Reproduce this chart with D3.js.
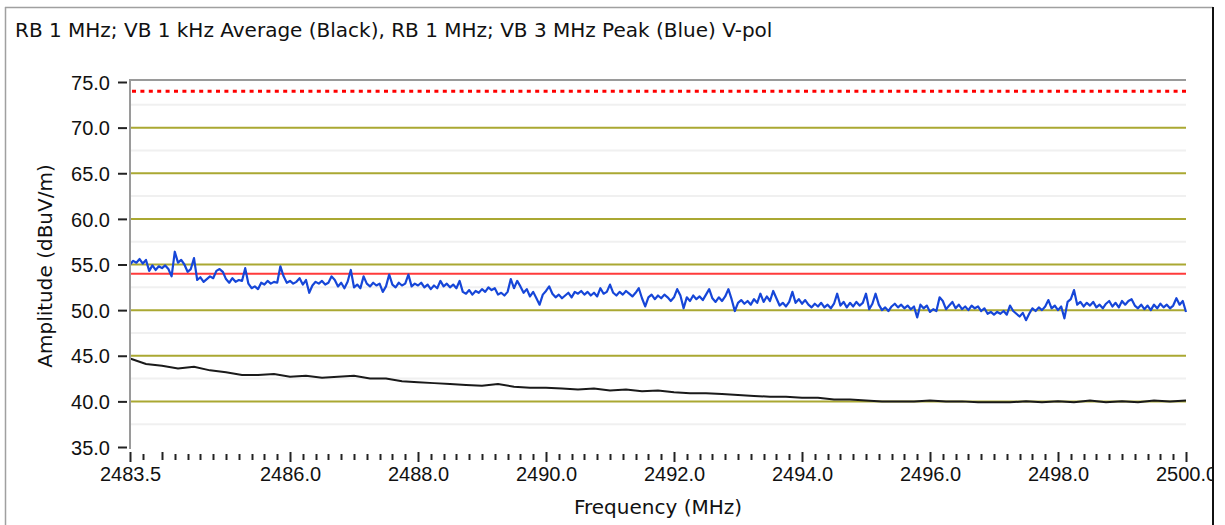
<!DOCTYPE html>
<html>
<head>
<meta charset="utf-8">
<style>
  body { margin: 0; background: #fff; }
  svg { display: block; font-family: "DejaVu Sans", Verdana, sans-serif; }
  .grid-major { stroke: #aaa832; stroke-width: 2; }
  .grid-minor { stroke: #f0f0f0; stroke-width: 2; }
  .tick-lbl { font-size: 20px; fill: #111; }
</style>
</head>
<body>
<script src="https://cdn.jsdelivr.net/npm/d3@7/dist/d3.min.js"></script>
<script>
// ---- data ----
const title = "RB 1 MHz; VB 1 kHz Average (Black), RB 1 MHz; VB 3 MHz Peak (Blue) V-pol";
const yTicks = [35, 40, 45, 50, 55, 60, 65, 70, 75];
const yMajorGrid = [40, 45, 50, 55, 60, 65, 70];
const yMinorGrid = [37.5, 42.5, 47.5, 52.5, 57.5, 62.5, 67.5, 72.5];
const xLabels = [2483.5, 2486, 2488, 2490, 2492, 2494, 2496, 2498, 2500];
const limitAvg = 54;   // solid red
const limitPeak = 74;  // dotted red

// peak trace (blue), one value per 0.05 MHz from 2483.5
const peakStart = 2483.5, peakStep = 0.05;
const peakVals = [
  55.0, 55.4, 55.2, 55.6, 55.1, 55.5, 54.3, 54.9, 54.4, 54.8,
  54.6, 54.9, 54.5, 53.7, 56.4, 55.2, 55.5, 55.0, 54.2, 54.5,
  55.7, 53.3, 53.6, 53.1, 53.4, 53.7, 53.5, 54.3, 54.5, 54.2,
  53.4, 53.0, 53.5, 53.1, 53.3, 53.2, 54.6, 52.9, 52.4, 52.6,
  52.3, 53.0, 52.8, 53.2, 52.9, 53.1, 53.0, 54.8, 53.7, 53.0,
  53.2, 52.9, 53.1, 53.5, 52.8, 53.3, 51.9, 52.7, 53.1, 52.9,
  53.2, 52.8, 53.0, 53.7, 53.3, 52.6, 53.0, 52.4, 53.1, 54.4,
  52.5, 52.8, 52.4, 53.7, 52.9, 52.6, 53.0, 52.7, 52.9, 52.0,
  52.6, 53.9, 52.8, 52.5, 53.0, 52.7, 52.9, 53.9, 52.6, 52.9,
  52.7, 53.0, 52.5, 52.8, 52.3, 52.7, 52.4, 53.2, 52.6, 52.9,
  52.5, 52.8, 52.4, 53.2, 52.0, 51.8, 52.2, 51.7, 52.1, 51.9,
  52.3, 52.0, 52.5, 52.2, 52.4, 51.7, 51.9, 51.6, 52.0, 53.4,
  52.4, 53.2, 52.6, 51.9, 52.3, 51.5, 52.0, 51.3, 50.6, 51.7,
  52.1, 52.6, 51.8, 51.4, 51.7, 51.3, 51.6, 51.9, 51.4, 52.0,
  51.8, 52.1, 51.7, 52.0, 51.6, 51.9, 51.5, 52.4, 51.8, 52.0,
  52.8, 51.9, 51.6, 52.0, 51.7, 52.1, 51.8, 51.5, 51.9, 52.4,
  51.3, 50.4, 51.4, 51.7, 51.2, 51.6, 51.3, 51.7, 51.4, 51.0,
  51.4, 52.3, 51.6, 50.2, 51.4, 51.0, 51.6, 51.2, 51.5, 51.1,
  51.7, 52.3, 51.3, 50.9, 51.4, 51.0, 51.5, 52.3, 51.2, 49.9,
  50.8, 51.1, 50.7, 51.0, 50.6, 51.2, 50.8, 51.8, 50.9, 51.5,
  51.0, 52.1, 51.3, 50.5, 50.8, 50.4, 50.9, 52.0, 50.8, 51.2,
  50.7, 51.1, 50.6, 50.3, 50.7, 50.4, 50.8, 50.3, 50.6, 50.2,
  50.7, 51.8, 50.5, 50.9, 50.3, 50.8, 50.4, 50.9, 50.5, 50.8,
  51.8, 50.1, 50.7, 51.8, 50.6, 50.0, 50.3, 49.9, 50.4, 50.7,
  50.3, 50.6, 50.2, 50.5, 50.1, 50.4, 49.2, 50.6, 50.2, 50.5,
  49.8, 50.1, 49.9, 51.4, 51.0, 50.1, 50.5, 50.9, 50.2, 50.6,
  50.1, 50.4, 50.0, 50.5, 50.2, 50.4, 49.9, 50.2, 49.6, 49.8,
  49.5, 49.8, 49.6, 49.9, 49.5, 50.5, 49.9, 49.6, 49.3, 49.7,
  48.9, 49.6, 50.2, 49.9, 50.3, 50.0, 50.4, 51.1, 50.2, 50.5,
  50.0, 50.4, 49.1, 50.9, 51.2, 52.2, 50.6, 50.9, 50.4, 50.8,
  50.5, 50.9, 50.3, 50.6, 50.2, 50.7, 51.0, 50.4, 50.8, 50.3,
  51.0, 50.6, 51.0, 51.2, 50.5, 50.2, 50.6, 50.1, 50.5, 50.0,
  50.6, 50.2, 50.7, 50.3, 50.6, 50.2, 50.5, 51.3, 50.6, 51.0,
  49.8
];

// average trace (black), one value per 0.25 MHz from 2483.5
const avgStart = 2483.5, avgStep = 0.25;
const avgVals = [
  44.7, 44.1, 43.9, 43.6, 43.8, 43.4, 43.2, 42.9, 42.9, 43.0,
  42.7, 42.8, 42.6, 42.7, 42.8, 42.5, 42.5, 42.2, 42.1, 42.0,
  41.9, 41.8, 41.7, 41.9, 41.6, 41.5, 41.5, 41.4, 41.3, 41.4,
  41.2, 41.3, 41.1, 41.2, 41.0, 40.9, 40.9, 40.8, 40.7, 40.6,
  40.5, 40.5, 40.4, 40.4, 40.2, 40.2, 40.1, 40.0, 40.0, 40.0,
  40.1, 40.0, 40.0, 39.9, 39.9, 39.9, 40.0, 39.9, 40.0, 39.9,
  40.1, 39.9, 40.0, 39.9, 40.1, 40.0, 40.1
];

// ---- drawing ----
const W = 1225, H = 525;
const svg = d3.select("body").append("svg").attr("width", W).attr("height", H);

const x = d3.scaleLinear().domain([2483.5, 2500]).range([130, 1186]);
const y = d3.scaleLinear().domain([35, 75]).range([447, 82]);

// outer frame
svg.append("line").attr("x1", 5.5).attr("x2", 5.5).attr("y1", 7).attr("y2", H).attr("stroke", "#a0a0a0").attr("stroke-width", 1.5);
svg.append("line").attr("x1", 5).attr("x2", 1213).attr("y1", 7.5).attr("y2", 7.5).attr("stroke", "#a0a0a0").attr("stroke-width", 1.5);

svg.append("text").attr("x", 15).attr("y", 37).attr("class", "tick-lbl").text(title);

// grid lines
svg.append("g").selectAll("line").data(yMinorGrid).join("line")
  .attr("class", "grid-minor")
  .attr("x1", x.range()[0]).attr("x2", x.range()[1])
  .attr("y1", d => y(d)).attr("y2", d => y(d));
svg.append("g").selectAll("line").data(yMajorGrid).join("line")
  .attr("class", "grid-major")
  .attr("x1", x.range()[0]).attr("x2", x.range()[1])
  .attr("y1", d => y(d)).attr("y2", d => y(d));

// limit lines
svg.append("line").attr("x1", x.range()[0]).attr("x2", x.range()[1])
  .attr("y1", y(limitAvg)).attr("y2", y(limitAvg))
  .attr("stroke", "#ff3b3b").attr("stroke-width", 2);
svg.append("line").attr("x1", x.range()[0] + 2).attr("x2", x.range()[1])
  .attr("y1", y(limitPeak)).attr("y2", y(limitPeak))
  .attr("stroke", "#ff0000").attr("stroke-width", 3).attr("stroke-dasharray", "4,4.4");

// traces
const line = d3.line().x(d => x(d[0])).y(d => y(d[1]));
const avgData = avgVals.map((v, i) => [avgStart + i * avgStep, v]);
const peakData = peakVals.map((v, i) => [peakStart + i * peakStep, v]);
svg.append("path").datum(avgData).attr("d", line)
  .attr("fill", "none").attr("stroke", "#1a1a1a").attr("stroke-width", 2);
svg.append("path").datum(peakData).attr("d", line)
  .attr("fill", "none").attr("stroke", "#1646d8").attr("stroke-width", 2.2).attr("stroke-linejoin", "round");

// plot border (left + top)
svg.append("line").attr("x1", 130).attr("x2", 1186).attr("y1", 80).attr("y2", 80).attr("stroke", "#9a9a9a").attr("stroke-width", 2);
svg.append("line").attr("x1", 130).attr("x2", 130).attr("y1", 79).attr("y2", 449).attr("stroke", "#9a9a9a").attr("stroke-width", 2);

// y axis
const yAxis = svg.append("g").attr("transform", "translate(127,0)")
  .call(d3.axisLeft(y).tickValues(yTicks).tickSize(9).tickPadding(8).tickFormat(d3.format(".1f")));
yAxis.select(".domain").remove();
yAxis.selectAll("line").attr("stroke", "#222").attr("stroke-width", 2);
yAxis.selectAll("text").attr("class", "tick-lbl").attr("font-family", null).attr("font-size", null).attr("dy", "0.36em");

// x axis: ticks every 0.2 MHz, taller at labelled positions
const minorTicks = [2483.7].concat(d3.range(2484, 2500.001, 0.2).map(v => +v.toFixed(1)));
const isMajor = v => xLabels.some(l => Math.abs(l - v) < 1e-6);
const allTicks = Array.from(new Set(minorTicks.concat(xLabels)));
svg.append("g").selectAll("line").data(allTicks).join("line")
  .attr("x1", d => Math.round(x(d)) + 0.5).attr("x2", d => Math.round(x(d)) + 0.5)
  .attr("y1", d => isMajor(d) || Math.abs(d - 2484) < 1e-6 ? 452 : 454)
  .attr("y2", d => isMajor(d) ? 462 : 460)
  .attr("stroke", "#222").attr("stroke-width", 2);

const xAxis = svg.append("g").attr("transform", "translate(0,463)")
  .call(d3.axisBottom(x).tickValues(xLabels).tickSize(0).tickPadding(4).tickFormat(d3.format(".1f")));
xAxis.select(".domain").remove();
xAxis.selectAll("text").attr("class", "tick-lbl").attr("font-family", null).attr("font-size", null);

// axis titles
svg.append("text").attr("class", "tick-lbl").attr("text-anchor", "middle")
  .attr("x", 658).attr("y", 514).text("Frequency (MHz)");
svg.append("text").attr("class", "tick-lbl").attr("text-anchor", "middle")
  .attr("transform", "translate(52,266) rotate(-90)").text("Amplitude (dBuV/m)");

// right edge of frame clips the last label
svg.append("rect").attr("x", 1214).attr("y", 0).attr("width", W - 1214).attr("height", H).attr("fill", "#fff");
svg.append("line").attr("x1", 1213).attr("x2", 1213).attr("y1", 7).attr("y2", H).attr("stroke", "#111").attr("stroke-width", 2);
</script>
</body>
</html>
